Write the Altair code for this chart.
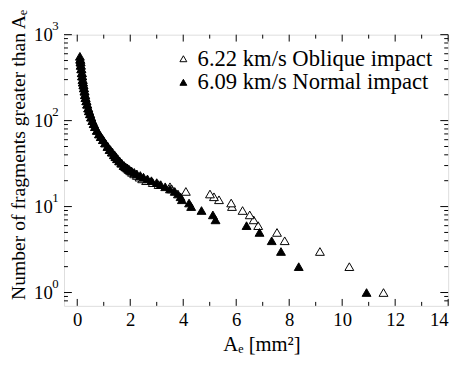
import altair as alt
import pandas as pd

# ---- data ----
series_labels = ["6.22 km/s Oblique impact", "6.09 km/s Normal impact"]

# Oblique impact (open triangles): N = number of fragments greater than Ae, A = Ae [mm^2]
obl_n = [1, 2, 3, 4, 5, 6, 7, 8, 9, 10, 11, 12, 13, 14, 15, 16, 17, 18, 19, 20,
         21, 22, 23, 24, 25, 26, 27, 28, 29, 30, 32, 34, 36, 38, 40, 43, 46, 50,
         55, 60, 65, 70, 77, 85, 92, 100, 110, 120, 130, 140, 155, 170, 185, 200,
         220, 240, 260, 280, 300, 330, 360, 400, 440, 480, 510]
obl_a = [11.56, 10.27, 9.16, 7.83, 7.54, 6.83, 6.66, 6.51, 6.24, 5.84, 5.81, 5.35,
         5.16, 5.01, 4.10, 3.57, 3.50, 3.07, 2.85, 2.60, 2.45, 2.35, 2.25, 2.15,
         2.07, 2.00, 1.94, 1.88, 1.82, 1.77, 1.68, 1.60, 1.53, 1.47, 1.41, 1.33,
         1.25, 1.16, 1.06, 0.98, 0.90, 0.83, 0.75, 0.68, 0.63, 0.58, 0.53, 0.49,
         0.45, 0.42, 0.38, 0.35, 0.32, 0.30, 0.28, 0.26, 0.24, 0.22, 0.21, 0.19,
         0.18, 0.16, 0.14, 0.13, 0.12]

# Normal impact (filled triangles)
nor_n = [1, 2, 3, 4, 5, 6, 7, 8, 9, 10, 11, 12, 13, 14, 15, 16, 17, 18, 19, 20,
         21, 22, 23, 24, 25, 26, 27, 28, 29, 30, 32, 34, 36, 38, 40, 43, 46, 50,
         55, 60, 65, 70, 77, 85, 92, 100, 110, 120, 130, 140, 155, 170, 185, 200,
         220, 240, 260, 280, 300, 330, 360, 400, 440, 480, 520, 560]
nor_a = [10.92, 8.36, 7.69, 7.34, 6.88, 6.39, 5.22, 5.12, 4.69, 4.30, 4.22, 3.95,
         3.90, 3.80, 3.68, 3.50, 3.32, 3.15, 3.00, 2.80, 2.65, 2.50, 2.38, 2.25,
         2.15, 2.05, 1.97, 1.90, 1.82, 1.75, 1.66, 1.58, 1.50, 1.44, 1.38, 1.30,
         1.22, 1.14, 1.05, 0.97, 0.89, 0.82, 0.74, 0.67, 0.62, 0.57, 0.52, 0.48,
         0.44, 0.41, 0.37, 0.34, 0.31, 0.29, 0.27, 0.25, 0.23, 0.21, 0.20, 0.18,
         0.17, 0.15, 0.13, 0.12, 0.11, 0.10]

x_major = [0, 2, 4, 6, 8, 10, 12, 14]
x_minor = [1, 3, 5, 7, 9, 11, 13]
y_major = [1, 10, 100, 1000]
y_exponents = ["0", "1", "2", "3"]
y_minor = [0.8, 0.9, 2, 3, 4, 5, 6, 7, 8, 9, 20, 30, 40, 50, 60, 70, 80, 90,
           200, 300, 400, 500, 600, 700, 800, 900]

# ---- tables ----
pts = pd.DataFrame({
    "A": obl_a + nor_a,
    "N": obl_n + nor_n,
    "series": [series_labels[0]] * len(obl_a) + [series_labels[1]] * len(nor_a),
})
xmaj = pd.DataFrame({"A": x_major})
xmin = pd.DataFrame({"A": x_minor})
ymaj = pd.DataFrame({"N": y_major, "e": y_exponents})
ymin = pd.DataFrame({"N": y_minor})

W, H = 391, 276
FONT = "Liberation Serif, 'Times New Roman', Times, 'DejaVu Serif', serif"

xscale = alt.Scale(domain=[-0.5, 14], nice=False, zero=False)
yscale = alt.Scale(type="log", domain=[0.7, 1000], nice=False)

xaxis = alt.Axis(values=x_major, ticks=False, domain=False, grid=False,
                 labelFont=FONT, labelFontSize=19, labelPadding=5, labelColor="black",
                 title="Aₑ [mm²]", titleFont=FONT, titleFontSize=21,
                 titleFontWeight="normal", titleColor="black", titleX=201, titlePadding=4)
yaxis = alt.Axis(values=y_major, ticks=False, domain=False, grid=False,
                 labelExpr="'10'", labelFont=FONT, labelFontSize=19, labelPadding=12,
                 labelColor="black",
                 title="Number of fragments greater than Aₑ", titleFont=FONT,
                 titleFontSize=20, titleFontWeight="normal", titleColor="black",
                 titleY=122, titlePadding=5)

xenc = alt.X("A:Q", scale=xscale, axis=xaxis)
yenc = alt.Y("N:Q", scale=yscale, axis=yaxis)

points = alt.Chart(pts).mark_point(
    shape="triangle-up", size=81, filled=True, stroke="black", strokeWidth=1, opacity=1
).encode(
    x=xenc,
    y=yenc,
    fill=alt.Fill("series:N", sort=series_labels,
                  scale=alt.Scale(domain=series_labels, range=["white", "black"]),
                  legend=alt.Legend(title=None, orient="none", legendX=110, legendY=13,
                                    symbolType="triangle-up", symbolSize=49,
                                    symbolStrokeColor="black", symbolStrokeWidth=1,
                                    labelFont=FONT, labelFontSize=23, labelColor="black",
                                    labelOffset=3, rowPadding=0, padding=0,
                                    labelLimit=400)),
    order=alt.Order("series:N", sort="descending"),
)

def xticks(df, y0, y1):
    return alt.Chart(df).mark_rule(color="black", strokeWidth=1).encode(
        x=xenc, y=alt.value(y0), y2=alt.value(y1))

def yticks(df, x0, x1):
    return alt.Chart(df).mark_rule(color="black", strokeWidth=1).encode(
        y=yenc, x=alt.value(x0), x2=alt.value(x1))

tick_layers = [
    xticks(xmaj, H, H - 7), xticks(xmin, H, H - 4),
    xticks(xmaj, 0, 7), xticks(xmin, 0, 4),
    yticks(ymaj, 0, 8), yticks(ymin, 0, 4),
    yticks(ymaj, W, W - 8), yticks(ymin, W, W - 4),
]

exps = alt.Chart(ymaj).mark_text(
    align="left", baseline="middle", font=FONT, fontSize=13, color="black", dy=-9
).encode(y=yenc, x=alt.value(-12), text="e:N")

chart = alt.layer(points, *tick_layers, exps).properties(
    width=W, height=H,
    autosize=alt.AutoSizeParams(type="none"),
    padding={"left": 57, "top": 24, "right": 9, "bottom": 53},
).configure_view(stroke="black", strokeWidth=1).configure(background="white")

chart.save("out.html", embed_options={"renderer": "svg", "actions": False})
